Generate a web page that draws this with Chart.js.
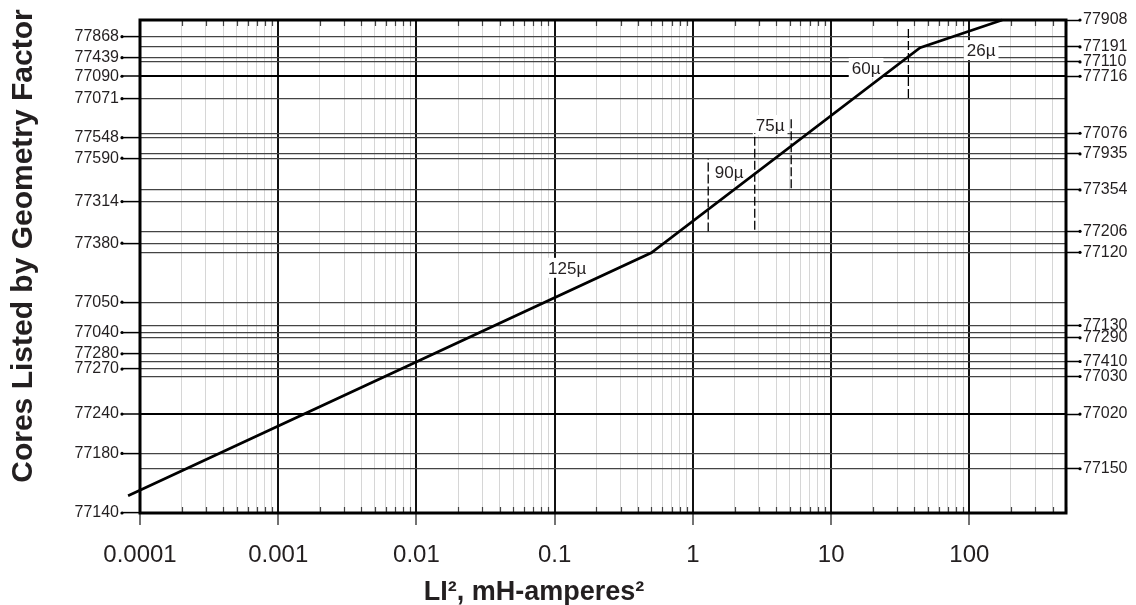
<!DOCTYPE html>
<html><head><meta charset="utf-8">
<script src="https://cdn.jsdelivr.net/npm/chart.js@4.4.0/dist/chart.umd.min.js"></script>
<style>html,body{margin:0;padding:0;background:#fff}canvas{display:block}</style>
</head><body>
<canvas id="c" width="1136" height="605"></canvas>
<script>
// ---- Data ----
const xTickValues = [0.0001, 0.001, 0.01, 0.1, 1, 10, 100];
const xTickLabels = ['0.0001', '0.001', '0.01', '0.1', '1', '10', '100'];
const minorMultipliers = [1, 2, 3, 4, 5, 6, 7, 8, 9];
const xMin = 0.0001, xMax = 500;

// Core positions on the geometry-factor axis (0 = bottom, 100 = top)
const lineValues = [100, 96.62, 94.53, 92.36, 91.49, 88.59, 84.05, 77.03, 76.14, 72.84, 71.97, 65.54, 63.17, 57.13,
  54.73, 52.87, 42.77, 38.03, 36.61, 35.54, 32.29, 30.73, 29.19, 27.69, 20.07, 12.08, 8.98, 0];
const leftLabels = ['', '77868', '', '77439', '', '77090', '77071', '', '77548', '', '77590', '', '77314', '',
  '77380', '', '77050', '', '77040', '', '77280', '', '77270', '', '77240', '77180', '', '77140'];
const rightLabels = ['77908', '', '77191', '', '77110', '77716', '', '77076', '', '77935', '', '77354', '', '77206',
  '', '77120', '', '77130', '', '77290', '', '77410', '', '77030', '77020', '', '77150', ''];

// Selection curve
const curveX = [0.000082, 0.5, 44, 173];
const curveY = [3.5, 52.77, 94.39, 100];

// Permeability region boundaries (dashed)
const boundaryX = [1.29, 2.8, 5.14, 36.2];
const boundaryYLow = [57.09, 57.43, 65.88, 84.19];
const boundaryYHigh = [71.84, 77.09, 80.4, 98.38];

// Region labels
const regionNames = ['125µ', '90µ', '75µ', '60µ', '26µ'];
const regionLabelX = [0.123, 1.83, 3.62, 17.9, 121.6];
const regionLabelY = [49.73, 69.19, 78.71, 90.27, 93.9];

// ---- Helpers ----
const TXT = '#231f20';
const FONT = "'Liberation Sans', Arial, sans-serif";
const isDecade = v => { const l = Math.log10(v); return Math.abs(l - Math.round(l)) < 1e-6; };
const decadeLabel = v => {
  const i = xTickValues.findIndex(t => Math.abs(Math.log10(t) - Math.log10(v)) < 1e-6);
  return i >= 0 ? xTickLabels[i] : '';
};
const idxOf = v => lineValues.findIndex(t => Math.abs(t - v) < 1e-6);
const isThick = v => { const i = idxOf(v); return i >= 0 && leftLabels[i] !== '' && rightLabels[i] !== ''; };
const xTicks = [];
xTickValues.forEach(d => minorMultipliers.forEach(m => { const v = +(d * m).toPrecision(6); if (v <= xMax) xTicks.push(v); }));

const datasets = [{
  data: curveX.map((x, i) => ({ x, y: curveY[i] })),
  borderColor: '#000', borderWidth: 2.7, pointRadius: 0, clip: false, tension: 0
}];
boundaryX.forEach((bx, i) => datasets.push({
  data: [{ x: bx, y: boundaryYLow[i] }, { x: bx, y: boundaryYHigh[i] }],
  borderColor: '#000', borderWidth: 1.3, borderDash: [9, 3], pointRadius: 0
}));

const decor = {
  id: 'decor',
  beforeDatasetsDraw(chart) {
    const ctx = chart.ctx, xs = chart.scales.x, ys = chart.scales.y;
    ctx.save();
    ctx.font = '17px ' + FONT;
    ctx.textAlign = 'center';
    ctx.textBaseline = 'middle';
    regionNames.forEach((n, i) => {
      const px = xs.getPixelForValue(regionLabelX[i]);
      const py = ys.getPixelForValue(regionLabelY[i]);
      const w = ctx.measureText(n).width;
      ctx.fillStyle = '#fff';
      ctx.fillRect(px - w / 2 - 3, py - 10, w + 6, 20);
      ctx.fillStyle = TXT;
      ctx.fillText(n, px, py + 1);
    });
    ctx.restore();
  },
  afterDraw(chart) {
    const ctx = chart.ctx, a = chart.chartArea, xs = chart.scales.x, ys = chart.scales.y;
    ctx.save();
    // inward minor ticks
    ctx.strokeStyle = '#444';
    ctx.lineWidth = 1.2;
    xTicks.forEach(v => {
      if (isDecade(v)) return;
      const px = Math.round(xs.getPixelForValue(v)) + 0.5;
      ctx.beginPath();
      ctx.moveTo(px, a.bottom); ctx.lineTo(px, a.bottom - 6);
      ctx.moveTo(px, a.top); ctx.lineTo(px, a.top + 6);
      ctx.stroke();
    });
    // dots at labelled y ticks
    ctx.fillStyle = '#000';
    lineValues.forEach((v, i) => {
      const py = ys.getPixelForValue(v);
      if (leftLabels[i]) { ctx.beginPath(); ctx.arc(a.left - 18, py, 1.6, 0, Math.PI * 2); ctx.fill(); }
      if (rightLabels[i]) { ctx.beginPath(); ctx.arc(a.right + 14, py, 1.6, 0, Math.PI * 2); ctx.fill(); }
    });
    // frame
    ctx.lineWidth = 3;
    ctx.strokeStyle = '#000';
    ctx.strokeRect(a.left, a.top, a.right - a.left, a.bottom - a.top);
    // axis titles
    ctx.fillStyle = TXT;
    ctx.font = 'bold 27px ' + FONT;
    ctx.textAlign = 'center';
    ctx.textBaseline = 'alphabetic';
    ctx.fillText('LI², mH-amperes²', 534, 600);
    ctx.translate(32, 246);
    ctx.rotate(-Math.PI / 2);
    ctx.font = 'bold 30px ' + FONT;
    ctx.fillText('Cores Listed by Geometry Factor', 0, 0);
    ctx.restore();
  }
};

new Chart(document.getElementById('c'), {
  type: 'line',
  data: { datasets },
  options: {
    responsive: false,
    animation: false,
    devicePixelRatio: 1,
    layout: { padding: { top: 20, left: 0, right: 0, bottom: 0 } },
    plugins: { legend: { display: false }, tooltip: { enabled: false } },
    scales: {
      x: {
        type: 'logarithmic', position: 'bottom', min: xMin, max: xMax,
        afterBuildTicks: s => { s.ticks = xTicks.map(v => ({ value: v, major: isDecade(v) })); },
        afterFit: s => { s.height = 92; },
        border: { display: false },
        grid: {
          color: c => (c.tick && isDecade(c.tick.value)) ? '#111' : '#d6d6d6',
          lineWidth: c => (c.tick && isDecade(c.tick.value)) ? 2 : 1,
          tickColor: c => (c.tick && isDecade(c.tick.value)) ? '#444' : 'rgba(0,0,0,0)',
          tickLength: 12, tickWidth: 1.5
        },
        ticks: {
          autoSkip: false, maxRotation: 0, padding: 16, color: TXT,
          font: { family: FONT, size: 24 },
          callback: v => decadeLabel(v)
        }
      },
      y: {
        type: 'linear', position: 'left', min: 0, max: 100,
        afterBuildTicks: s => { s.ticks = lineValues.map(v => ({ value: v })); },
        afterFit: s => { s.width = 140; },
        border: { display: false },
        grid: {
          color: c => (c.tick && isThick(c.tick.value)) ? '#000' : '#444',
          lineWidth: c => (c.tick && isThick(c.tick.value)) ? 2 : 1.2,
          tickColor: c => (c.tick && leftLabels[idxOf(c.tick.value)]) ? '#000' : 'rgba(0,0,0,0)',
          tickLength: 18, tickWidth: 1.5
        },
        ticks: {
          autoSkip: false, padding: 3, color: TXT,
          font: { family: FONT, size: 16 },
          callback: v => { const i = idxOf(v); return i >= 0 ? leftLabels[i] : ''; }
        }
      },
      y2: {
        type: 'linear', position: 'right', min: 0, max: 100,
        afterBuildTicks: s => { s.ticks = lineValues.map(v => ({ value: v })); },
        afterFit: s => { s.width = 70; },
        border: { display: false },
        grid: {
          drawOnChartArea: false,
          tickColor: c => (c.tick && rightLabels[idxOf(c.tick.value)]) ? '#000' : 'rgba(0,0,0,0)',
          tickLength: 14, tickWidth: 1.5
        },
        ticks: {
          autoSkip: false, padding: 3, color: TXT,
          font: { family: FONT, size: 16 },
          callback: v => { const i = idxOf(v); return i >= 0 ? rightLabels[i] : ''; }
        }
      }
    }
  },
  plugins: [decor]
});
</script>
</body></html>
